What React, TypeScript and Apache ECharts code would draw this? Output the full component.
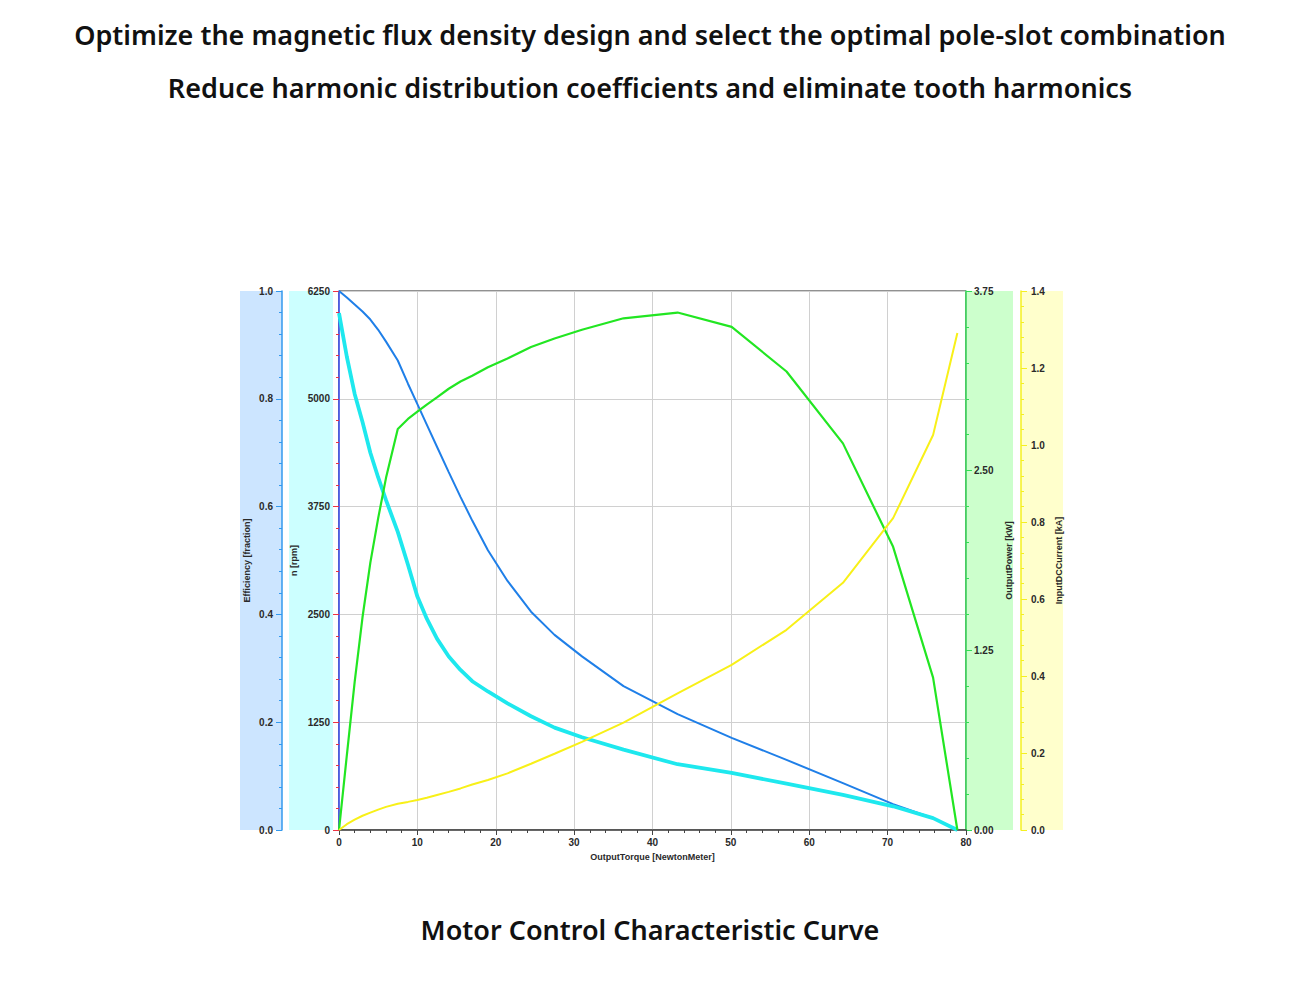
import React, { useEffect, useRef } from 'react';
import * as echarts from 'echarts';

// torque samples [N·m] shared by every curve
const torque = [0, 1, 2, 3, 4, 5, 6, 7.5, 8.8, 10, 11.2, 12.5, 14, 15.5, 17, 19, 21.5, 24.5, 27.5, 31, 36.3, 43.2, 50.1, 57.1, 64.3, 70.7, 75.8, 78.9];
const speedRpm = [6250, 6175, 6094, 6013, 5919, 5800, 5663, 5444, 5175, 4938, 4700, 4444, 4150, 3863, 3588, 3244, 2888, 2531, 2263, 2013, 1669, 1344, 1069, 813, 544, 300, 138, 0];
const efficiency = [0.959, 0.878, 0.809, 0.757, 0.7, 0.654, 0.612, 0.553, 0.492, 0.433, 0.392, 0.355, 0.322, 0.297, 0.276, 0.257, 0.235, 0.211, 0.19, 0.172, 0.149, 0.122, 0.106, 0.086, 0.065, 0.044, 0.022, 0];
const outputPowerKw = [0, 0.52, 1.03, 1.48, 1.86, 2.17, 2.45, 2.79, 2.86, 2.91, 2.96, 3.01, 3.07, 3.12, 3.16, 3.22, 3.28, 3.36, 3.42, 3.48, 3.56, 3.6, 3.5, 3.19, 2.69, 1.97, 1.06, 0];
const inputCurrentKa = [0, 0.015, 0.027, 0.037, 0.045, 0.053, 0.06, 0.068, 0.073, 0.078, 0.084, 0.091, 0.099, 0.108, 0.118, 0.13, 0.147, 0.172, 0.198, 0.229, 0.279, 0.355, 0.429, 0.52, 0.642, 0.81, 1.026, 1.291];

const titleLines = [
    'Optimize the magnetic flux density design and select the optimal pole-slot combination',
    'Reduce harmonic distribution coefficients and eliminate tooth harmonics',
];
const caption = 'Motor Control Characteristic Curve';

const W = 1300;
const H = 982;
const GRID_L = 339;
const GRID_R = 966;
const GRID_T = 291;
const GRID_B = 830;

const pairs = (ys: number[]) => torque.map((t, i) => [t, ys[i]]);

const labelFont = { fontSize: 10, fontWeight: 'bold' as const, color: '#2a2a2a', fontFamily: 'Liberation Sans' };
const nameFont = { fontSize: 9, fontWeight: 'bold' as const, color: '#2a2a2a', fontFamily: 'Liberation Sans' };

const band = (x0: number, x1: number, fill: string) => ({
    type: 'rect',
    z: -10,
    silent: true,
    shape: { x: x0, y: GRID_T, width: x1 - x0, height: GRID_B - GRID_T },
    style: { fill },
});

// common settings for the four value axes
const yAxisBase = (color: string, tickColor: string) => ({
    type: 'value',
    nameLocation: 'middle',
    nameRotate: 90,
    nameTextStyle: nameFont,
    axisLine: { show: true, onZero: false, lineStyle: { color, width: 1.5 } },
    axisTick: { show: true, length: 6, lineStyle: { color: tickColor } },
    minorTick: { show: true, splitNumber: 5, length: 3, lineStyle: { color: tickColor } },
    splitLine: { show: false },
});

export default function App() {
    const chartRef = useRef<HTMLDivElement>(null);

    useEffect(() => {
        const myChart = echarts.init(chartRef.current, null, { renderer: 'svg' });

        const titleFont = { fontFamily: 'Noto Sans', fontWeight: 600 as any, fontSize: 27, color: '#111' };

        myChart.setOption({
            animation: false,
            backgroundColor: '#fff',
            title: [
                { text: titleLines[0], left: 'center', top: 21, padding: 0, textStyle: titleFont },
                { text: titleLines[1], left: 'center', top: 74, padding: 0, textStyle: titleFont },
                { text: caption, left: 'center', top: 916, padding: 0, textStyle: titleFont },
            ],
            graphic: [
                band(240, 282, '#cce5ff'),
                band(289, 333, '#ccffff'),
                band(GRID_R, 1013, '#ccffcc'),
                band(1021, 1063, '#ffffcc'),
            ],
            grid: {
                left: GRID_L,
                right: W - GRID_R,
                top: GRID_T,
                bottom: H - GRID_B,
                show: true,
                borderColor: '#222',
                borderWidth: 1,
                backgroundColor: 'transparent',
            },
            xAxis: {
                type: 'value',
                min: 0,
                max: 80,
                interval: 10,
                name: 'OutputTorque [NewtonMeter]',
                nameLocation: 'middle',
                nameGap: 22,
                nameTextStyle: nameFont,
                axisLine: { lineStyle: { color: '#444', width: 1.5 } },
                axisTick: { length: 5, lineStyle: { color: '#444' } },
                minorTick: { show: true, splitNumber: 5, length: 3, lineStyle: { color: '#444' } },
                axisLabel: { ...labelFont, margin: 7 },
                splitLine: { show: true, lineStyle: { color: '#d0d0d0', width: 1 } },
            },
            yAxis: [
                {
                    ...yAxisBase('#3399ee', '#3399ee'),
                    position: 'left',
                    offset: GRID_L - 282,
                    min: 0,
                    max: 1,
                    interval: 0.2,
                    name: 'Efficiency [fraction]',
                    nameGap: 31,
                    axisLabel: { ...labelFont, margin: 9, formatter: (v: number) => v.toFixed(1) },
                },
                {
                    ...yAxisBase('#3a4df0', '#ee3344'),
                    position: 'left',
                    offset: 0,
                    min: 0,
                    max: 6250,
                    interval: 1250,
                    name: 'n [rpm]',
                    nameGap: 41,
                    axisLabel: { ...labelFont, margin: 9, formatter: (v: number) => String(v) },
                    splitLine: { show: true, lineStyle: { color: '#d0d0d0', width: 1 } },
                },
                {
                    ...yAxisBase('#33dd55', '#33dd55'),
                    position: 'right',
                    offset: 0,
                    min: 0,
                    max: 3.75,
                    interval: 1.25,
                    name: 'OutputPower [kW]',
                    nameGap: 38,
                    axisLabel: { ...labelFont, margin: 8, formatter: (v: number) => v.toFixed(2) },
                },
                {
                    ...yAxisBase('#f5f020', '#f5f020'),
                    position: 'right',
                    offset: 1021 - GRID_R,
                    min: 0,
                    max: 1.4,
                    interval: 0.2,
                    name: 'InputDCCurrent [kA]',
                    nameGap: 33,
                    axisLabel: { ...labelFont, margin: 10, formatter: (v: number) => v.toFixed(1) },
                },
            ],
            series: [
                {
                    name: 'n',
                    type: 'line',
                    yAxisIndex: 1,
                    showSymbol: false,
                    data: pairs(speedRpm),
                    lineStyle: { color: '#1f7fe8', width: 2 },
                    itemStyle: { color: '#1f7fe8' },
                },
                {
                    name: 'Efficiency',
                    type: 'line',
                    yAxisIndex: 0,
                    showSymbol: false,
                    data: pairs(efficiency),
                    lineStyle: { color: '#1ee8ee', width: 3.8 },
                    itemStyle: { color: '#1ee8ee' },
                },
                {
                    name: 'OutputPower',
                    type: 'line',
                    yAxisIndex: 2,
                    showSymbol: false,
                    data: pairs(outputPowerKw),
                    lineStyle: { color: '#22e622', width: 2.2 },
                    itemStyle: { color: '#22e622' },
                },
                {
                    name: 'InputDCCurrent',
                    type: 'line',
                    yAxisIndex: 3,
                    showSymbol: false,
                    data: pairs(inputCurrentKa),
                    lineStyle: { color: '#f8f018', width: 2 },
                    itemStyle: { color: '#f8f018' },
                },
            ],
        });

        return () => {
            myChart.dispose();
        };
    }, []);

    return (
        <div
            ref={chartRef}
            style={{ position: 'fixed', left: 0, top: 0, width: W + 'px', height: H + 'px', background: '#fff' }}
        />
    );
}
